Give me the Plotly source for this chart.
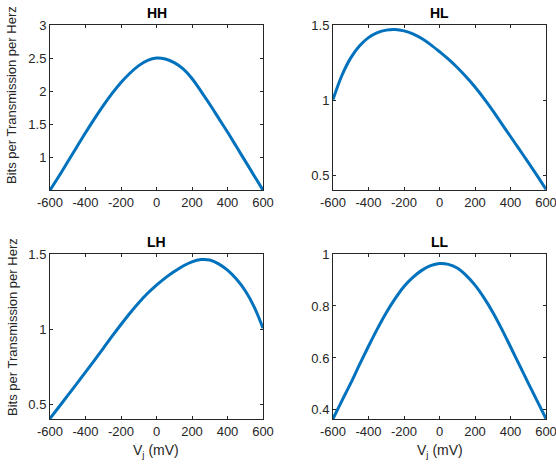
import plotly.graph_objects as go

# Junction voltage V_j (mV)
vj = [-600, -550, -500, -450, -400, -350, -300, -250, -200, -150, -100, -50, 0,
      50, 100, 150, 200, 250, 300, 350, 400, 450, 500, 550, 600]

# Bits per transmission per Herz
hh = [0.50, 0.71, 0.93, 1.15, 1.37, 1.58, 1.78, 1.965, 2.13, 2.27, 2.385, 2.465, 2.50,
      2.485, 2.43, 2.335, 2.19, 2.00, 1.80, 1.59, 1.38, 1.16, 0.94, 0.72, 0.50]
hl = [1.005, 1.165, 1.282, 1.362, 1.416, 1.449, 1.466, 1.470, 1.461, 1.441, 1.410, 1.370, 1.323,
      1.273, 1.218, 1.156, 1.088, 1.013, 0.932, 0.846, 0.760, 0.674, 0.588, 0.500, 0.410]
lh = [0.403, 0.480, 0.557, 0.634, 0.712, 0.791, 0.871, 0.952, 1.030, 1.105, 1.175, 1.238, 1.293,
      1.341, 1.383, 1.420, 1.448, 1.463, 1.460, 1.434, 1.392, 1.333, 1.255, 1.148, 1.005]
ll = [0.366, 0.435, 0.503, 0.575, 0.645, 0.712, 0.774, 0.828, 0.875, 0.910, 0.937, 0.955, 0.963,
      0.960, 0.946, 0.918, 0.880, 0.832, 0.776, 0.712, 0.643, 0.573, 0.503, 0.435, 0.366]

titles = ["HH", "HL", "LH", "LL"]
xticks = [-600, -400, -200, 0, 200, 400, 600]
yranges = [[0.503, 3.0], [0.405, 1.5], [0.40, 1.5], [0.365, 1.0]]
yticks = [[1, 1.5, 2, 2.5, 3], [0.5, 1, 1.5], [0.5, 1, 1.5], [0.4, 0.6, 0.8, 1]]

W, H = 556, 468
# pixel boxes (left, right, top, bottom)
boxes = [(50, 263, 25, 190), (333, 546, 25, 190), (50, 263, 254, 419), (333, 546, 254, 419)]

fig = go.Figure()
series = [hh, hl, lh, ll]
FONT = "Liberation Sans, Arial, sans-serif"
axcol = "#262626"

layout = dict(
    width=W, height=H, margin=dict(l=0, r=0, t=0, b=0, autoexpand=False),
    paper_bgcolor="white", plot_bgcolor="white", showlegend=False,
    font=dict(family=FONT, size=13, color=axcol),
)
annotations = []
for i, (ys, (l, r, t, b)) in enumerate(zip(series, boxes)):
    n = "" if i == 0 else str(i + 1)
    fig.add_trace(go.Scatter(x=vj, y=ys, mode="lines", line=dict(color="#0072BD", width=3, shape="spline", smoothing=1.0),
                             xaxis="x" + n, yaxis="y" + n, hoverinfo="skip"))
    common = dict(showgrid=False, zeroline=False, showline=True, linecolor=axcol, linewidth=1,
                  mirror="ticks", ticks="inside", ticklen=3, tickcolor=axcol, tickwidth=1, automargin=False,
                  ticklabeloverflow="allow",
                  tickfont=dict(family=FONT, size=13, color=axcol))
    layout["xaxis" + n] = dict(domain=[l / W, r / W], range=[-600, 600], tickvals=xticks,
                               ticktext=[str(v) for v in xticks], anchor="y" + n, **common)
    layout["yaxis" + n] = dict(domain=[1 - b / H, 1 - t / H], range=yranges[i], tickvals=yticks[i],
                               ticktext=[("%g" % v) for v in yticks[i]], anchor="x" + n, **common)
    annotations.append(dict(text="<b>%s</b>" % titles[i], x=(l + r) / 2 / W, y=1 - (t - 12) / H,
                            xref="paper", yref="paper", showarrow=False, xanchor="center", yanchor="middle",
                            font=dict(family=FONT, size=14, color="black")))

# y labels
for yc in (95, 327):
    annotations.append(dict(text="Bits per Transmission per Herz", x=12 / W, y=1 - yc / H, xref="paper", yref="paper",
                            showarrow=False, textangle=-90, xanchor="center", yanchor="middle",
                            font=dict(family=FONT, size=13, color=axcol)))
# x labels
for xc in (156, 440):
    annotations.append(dict(text="V<sub>j</sub> (mV)", x=xc / W, y=1 - 451 / H, xref="paper", yref="paper",
                            showarrow=False, xanchor="center", yanchor="middle",
                            font=dict(family=FONT, size=14, color=axcol)))
layout["annotations"] = annotations
fig.update_layout(**layout)
fig.write_html("out.html", config={"displayModeBar": False},
               post_script="document.body.style.margin='0';")
